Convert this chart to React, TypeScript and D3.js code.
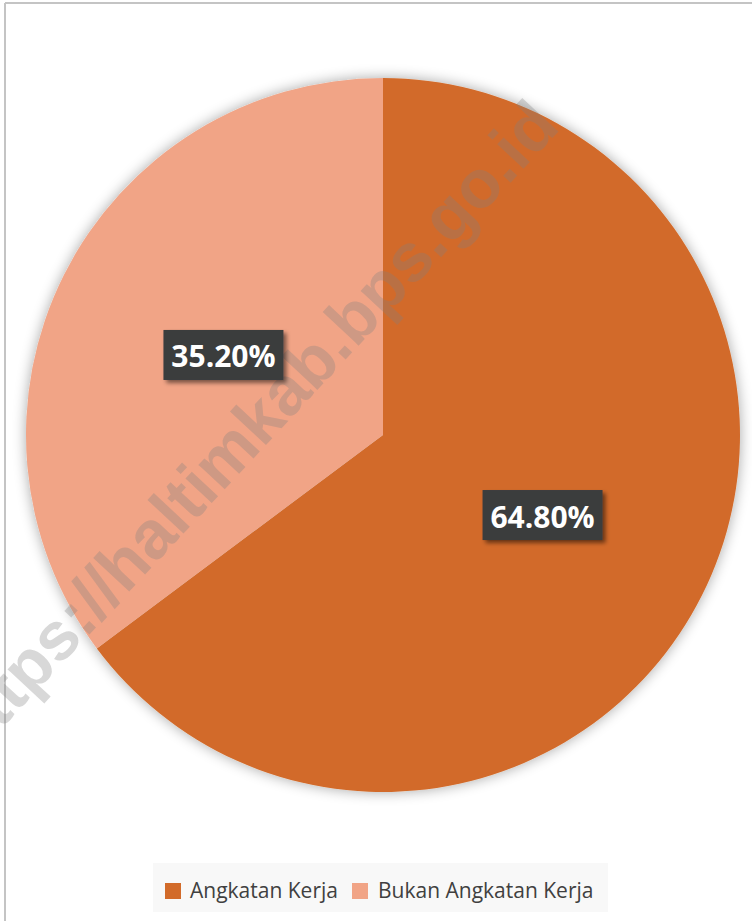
import React from "react";
import * as d3 from "d3";

const categories = ["Angkatan Kerja", "Bukan Angkatan Kerja"];
const values = [64.8, 35.2];
const labels = ["64.80%", "35.20%"];
const colors = ["#D26B2A", "#F1A486"];
const watermark = "https://haltimkab.bps.go.id";

const W = 752;
const H = 921;
const cx = 383;
const cy = 435;
const R = 357;

export default function App() {
  const pie = d3.pie<number>().sort(null).value((d) => d);
  const arcs = pie(values);
  const arc = d3.arc<d3.PieArcDatum<number>>().innerRadius(0).outerRadius(R);
  const labelArc = d3.arc<d3.PieArcDatum<number>>().innerRadius(R * 0.5).outerRadius(R * 0.5);

  const legendX = [165, 352];
  const legendTextX = [190, 378];
  const wmX = 249;
  const wmY = 428;

  return (
    <svg
      width={W}
      height={H}
      style={{ position: "absolute", left: 0, top: 0, background: "#fff" }}
      fontFamily="'Open Sans', sans-serif"
    >
      <defs>
        <filter id="pieShadow" x="-20%" y="-20%" width="140%" height="140%">
          <feGaussianBlur in="SourceAlpha" stdDeviation="7" />
          <feComponentTransfer>
            <feFuncA type="linear" slope="0.35" />
          </feComponentTransfer>
          <feMerge>
            <feMergeNode />
            <feMergeNode in="SourceGraphic" />
          </feMerge>
        </filter>
        <filter id="boxShadow" x="-20%" y="-30%" width="150%" height="170%">
          <feGaussianBlur in="SourceAlpha" stdDeviation="2" />
          <feOffset dx="3" dy="3" result="o" />
          <feComponentTransfer>
            <feFuncA type="linear" slope="0.5" />
          </feComponentTransfer>
          <feMerge>
            <feMergeNode />
            <feMergeNode in="SourceGraphic" />
          </feMerge>
        </filter>
      </defs>

      {/* frame */}
      <line x1={5} y1={3} x2={5} y2={H} stroke="#c4c4c4" strokeWidth={2} />
      <line x1={5} y1={3} x2={W} y2={3} stroke="#c4c4c4" strokeWidth={2} />

      {/* pie */}
      <g transform={`translate(${cx},${cy})`} filter="url(#pieShadow)">
        {arcs.map((a, i) => (
          <path key={i} d={arc(a) || ""} fill={colors[i]} />
        ))}
      </g>

      {/* watermark */}
      <text
        x={wmX}
        y={wmY}
        transform={`rotate(-47 ${wmX} ${wmY})`}
        textAnchor="middle"
        dominantBaseline="central"
        fontFamily="'Liberation Sans', Arial, sans-serif"
        fontWeight="bold"
        fontSize={68}
        fill="#808080"
        opacity={0.3}
      >
        {watermark}
      </text>

      {/* data labels */}
      {arcs.map((a, i) => {
        const [lx, ly] = labelArc.centroid(a);
        const x = cx + lx;
        const y = cy + ly;
        return (
          <g key={i}>
            <rect
              x={x - 60}
              y={y - 25}
              width={120}
              height={50}
              fill="#3a3c3e"
              filter="url(#boxShadow)"
            />
            <text
              x={x}
              y={y + 1}
              textAnchor="middle"
              dominantBaseline="central"
              fill="#ffffff"
              fontWeight="bold"
              fontSize={30}
            >
              {labels[i]}
            </text>
          </g>
        );
      })}

      {/* legend */}
      <rect x={153} y={863} width={455} height={49} fill="#f8f8f8" />
      {categories.map((c, i) => (
        <g key={c}>
          <rect x={legendX[i]} y={883} width={16} height={16} fill={colors[i]} />
          <text x={legendTextX[i]} y={898} fontSize={21} fill="#404040">
            {c}
          </text>
        </g>
      ))}
    </svg>
  );
}
